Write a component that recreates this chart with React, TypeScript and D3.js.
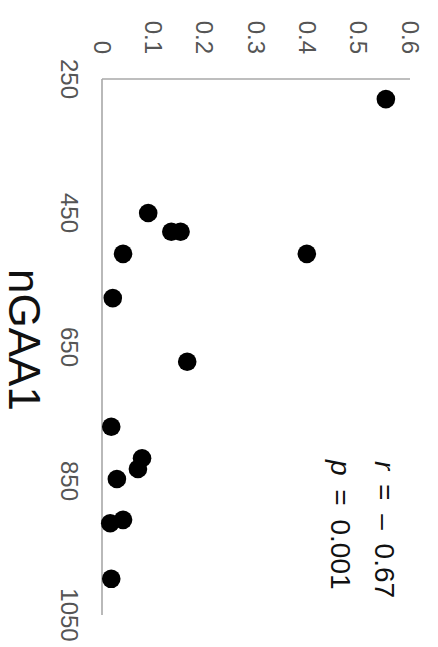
import React from "react";
import * as d3 from "d3";

// nGAA1 level (x) vs. measured value (y), one entry per sample
const nGAA1 = [280, 450, 478, 478, 511, 511, 577, 672, 769, 816, 832, 847, 913, 908, 996];
const values = [0.553, 0.09, 0.135, 0.153, 0.041, 0.399, 0.021, 0.166, 0.018, 0.078, 0.07, 0.029, 0.016, 0.041, 0.018];

const xTicks = [250, 450, 650, 850, 1050];
const yTicks = [0, 0.1, 0.2, 0.3, 0.4, 0.5, 0.6];
const yTickLabels = ["0", "0.1", "0.2", "0.3", "0.4", "0.5", "0.6"];

const title = "nGAA1";
const statR = "0.67";
const statP = "0.001";

const W = 438;
const H = 647;
const FONT = "'Liberation Sans', Arial, Helvetica, sans-serif";

export default function App() {
  // The chart is laid out in an upright frame (width H, height W) and then
  // turned a quarter turn clockwise onto the page.
  const x = d3.scaleLinear().domain([250, 1050]).range([79, 615]);
  const y = d3.scaleLinear().domain([0, 0.6]).range([336, 28]);

  return (
    <svg
      width={W}
      height={H}
      viewBox={`0 0 ${W} ${H}`}
      style={{ position: "absolute", left: 0, top: 0, background: "#fff" }}
    >
      <rect width={W} height={H} fill="#fff" />
      <g transform={`translate(${W},0) rotate(90)`} fontFamily={FONT}>
        {/* axes */}
        <line x1={x(250)} x2={x(1050)} y1={y(0)} y2={y(0)} stroke="#a8a8a8" strokeWidth={1.6} />
        <line x1={x(250)} x2={x(250)} y1={y(0)} y2={y(0.6)} stroke="#a8a8a8" strokeWidth={1.6} />

        {/* x tick labels */}
        {xTicks.map((t) => (
          <text key={t} x={x(t)} y={377} textAnchor="middle" fontSize={24} fill="#555">
            {t}
          </text>
        ))}

        {/* y tick labels */}
        {yTicks.map((t, i) => (
          <text key={t} x={54} y={y(t)} dy="0.35em" textAnchor="end" fontSize={24} fill="#555">
            {yTickLabels[i]}
          </text>
        ))}

        {/* points */}
        {nGAA1.map((d, i) => (
          <circle key={i} cx={x(d)} cy={y(values[i])} r={9.3} fill="#000" />
        ))}

        {/* statistics */}
        <text x={461} y={63} fontSize={28} fill="#111" wordSpacing={6} xmlSpace="preserve">
          <tspan fontStyle="italic">r</tspan> = – {statR}
        </text>
        <text x={460} y={107} fontSize={28} fill="#111" wordSpacing={6} xmlSpace="preserve">
          <tspan fontStyle="italic">p</tspan> = {statP}
        </text>

        {/* x-axis title */}
        <text x={340} y={429} textAnchor="middle" fontSize={44} fill="#111">
          {title}
        </text>
      </g>
    </svg>
  );
}
